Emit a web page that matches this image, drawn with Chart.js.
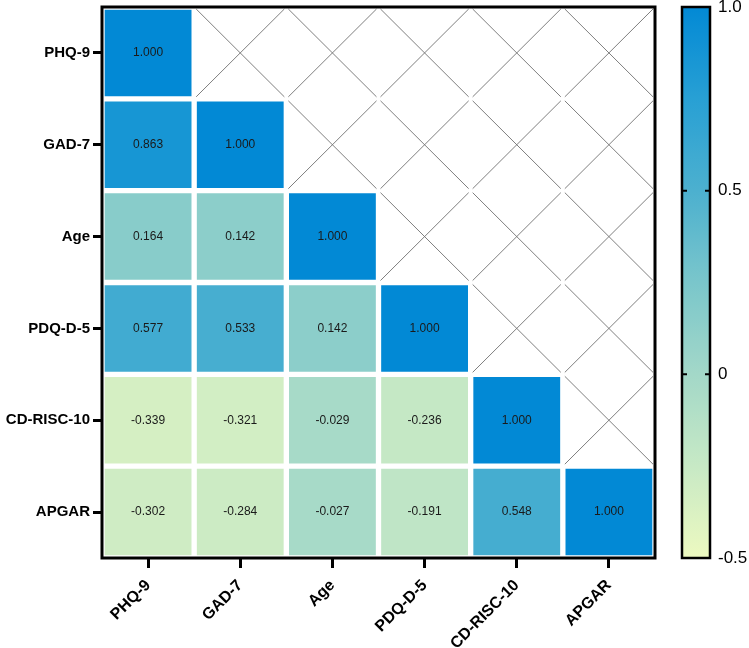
<!DOCTYPE html>
<html>
<head>
<meta charset="utf-8">
<script src="https://cdn.jsdelivr.net/npm/chart.js@4"></script>
<style>
  html, body { margin: 0; padding: 0; background: #ffffff; }
  #wrap { width: 749px; height: 648px; position: relative; }
</style>
</head>
<body>
<div id="wrap"><canvas id="c"></canvas></div>
<script>
// ---- data ----
const categories = ['PHQ-9', 'GAD-7', 'Age', 'PDQ-D-5', 'CD-RISC-10', 'APGAR'];
const rowPHQ9     = [1.000];
const rowGAD7     = [0.863, 1.000];
const rowAge      = [0.164, 0.142, 1.000];
const rowPDQD5    = [0.577, 0.533, 0.142, 1.000];
const rowCDRISC10 = [-0.339, -0.321, -0.029, -0.236, 1.000];
const rowAPGAR    = [-0.302, -0.284, -0.027, -0.191, 0.548, 1.000];
const colorbarTicks = [-0.5, 0, 0.5, 1.0];
const colorbarTickLabels = ['-0.5', '0', '0.5', '1.0'];

const rows = [rowPHQ9, rowGAD7, rowAge, rowPDQD5, rowCDRISC10, rowAPGAR];

// ---- colour map (style) ----
const cmap = [
  [-0.5,  [237, 249, 192]],
  [-0.25, [199, 233, 197]],
  [0.0,   [163, 216, 200]],
  [0.25,  [122, 198, 203]],
  [0.5,   [76, 176, 207]],
  [0.75,  [40, 160, 212]],
  [1.0,   [2, 137, 213]]
];
function colorFor(v) {
  if (v <= cmap[0][0]) return 'rgb(' + cmap[0][1].join(',') + ')';
  for (let i = 1; i < cmap.length; i++) {
    if (v <= cmap[i][0]) {
      const [v0, c0] = cmap[i - 1], [v1, c1] = cmap[i];
      const t = (v - v0) / (v1 - v0);
      const c = c0.map((a, k) => Math.round(a + (c1[k] - a) * t));
      return 'rgb(' + c.join(',') + ')';
    }
  }
  return 'rgb(' + cmap[cmap.length - 1][1].join(',') + ')';
}

const FONT = '"Liberation Sans", Arial, Helvetica, sans-serif';

const datasets = rows.map((vals, r) => ({
  label: categories[r],
  data: categories.map((c, ci) => ci < vals.length ? [r, r + 1] : null),
  cellValues: vals,
  backgroundColor: categories.map((c, ci) => ci < vals.length ? colorFor(vals[ci]) : 'rgba(0,0,0,0)'),
  borderColor: '#ffffff',
  borderWidth: 3,
  borderSkipped: false,
  grouped: false,
  categoryPercentage: 1,
  barPercentage: 1,
  yAxisID: 'y'
}));

const heatPlugin = {
  id: 'heat',
  beforeDatasetsDraw(chart) {
    const ctx = chart.ctx, xs = chart.scales.x, ys = chart.scales.y;
    const n = categories.length;
    ctx.save();
    ctx.strokeStyle = '#707070';
    ctx.lineWidth = 0.9;
    const half = (xs.getPixelForValue(1) - xs.getPixelForValue(0)) / 2;
    for (let r = 0; r < n; r++) {
      for (let c = r + 1; c < n; c++) {
        const cx = xs.getPixelForValue(c);
        const x0 = cx - half + 2, x1 = cx + half - 2;
        const y0 = ys.getPixelForValue(r) + 2, y1 = ys.getPixelForValue(r + 1) - 2;
        ctx.beginPath();
        ctx.moveTo(x0, y0); ctx.lineTo(x1, y1);
        ctx.moveTo(x1, y0); ctx.lineTo(x0, y1);
        ctx.stroke();
      }
    }
    ctx.restore();
  },
  afterDatasetsDraw(chart) {
    const ctx = chart.ctx;
    ctx.save();
    ctx.font = '12px ' + FONT;
    ctx.fillStyle = '#1a1a1a';
    ctx.textAlign = 'center';
    ctx.textBaseline = 'middle';
    chart.data.datasets.forEach((ds, di) => {
      const meta = chart.getDatasetMeta(di);
      meta.data.forEach((el, i) => {
        if (ds.data[i] == null) return;
        const p = el.getCenterPoint();
        ctx.fillText(ds.cellValues[i].toFixed(3), p.x, p.y);
      });
    });
    ctx.restore();
  },
  afterDraw(chart) {
    const ctx = chart.ctx, a = chart.chartArea;
    ctx.save();
    // frame
    ctx.strokeStyle = '#000';
    ctx.lineWidth = 3;
    ctx.strokeRect(a.left, a.top, a.right - a.left, a.bottom - a.top);
    // colorbar
    const cb = chart.scales.cb;
    const left = cb.left + 27, right = cb.left + 55;
    const top = cb.getPixelForValue(colorbarTicks[colorbarTicks.length - 1]);
    const bottom = cb.getPixelForValue(colorbarTicks[0]);
    const g = ctx.createLinearGradient(0, bottom, 0, top);
    const vmin = colorbarTicks[0], vmax = colorbarTicks[colorbarTicks.length - 1];
    for (let k = 0; k <= 30; k++) {
      const v = vmin + (vmax - vmin) * k / 30;
      g.addColorStop(k / 30, colorFor(v));
    }
    ctx.fillStyle = g;
    ctx.fillRect(left, top, right - left, bottom - top);
    ctx.lineWidth = 2.5;
    ctx.strokeRect(left, top, right - left, bottom - top);
    ctx.lineWidth = 2;
    colorbarTicks.slice(1, -1).forEach(v => {
      const y = cb.getPixelForValue(v);
      ctx.beginPath();
      ctx.moveTo(left, y); ctx.lineTo(left + 5, y);
      ctx.moveTo(right, y); ctx.lineTo(right - 5, y);
      ctx.stroke();
    });
    ctx.restore();
  }
};

new Chart(document.getElementById('c'), {
  type: 'bar',
  data: { labels: categories, datasets },
  options: {
    responsive: true,
    maintainAspectRatio: false,
    animation: false,
    devicePixelRatio: 1,
    layout: { padding: { top: 7, left: 0, right: 0, bottom: 0 } },
    plugins: { legend: { display: false }, tooltip: { enabled: false } },
    scales: {
      x: {
        type: 'category',
        offset: true,
        border: { display: false },
        grid: { offset: false, drawOnChartArea: false, drawTicks: true, tickLength: 10, tickWidth: 3, tickColor: '#000' },
        ticks: { color: '#000', font: { family: FONT, size: 16, weight: 'bold' }, minRotation: 45, maxRotation: 45, padding: 8 },
        afterFit(s) { s.height = 90; s.paddingLeft = 0; s.paddingRight = 0; }
      },
      y: {
        type: 'linear',
        reverse: true,
        min: 0,
        max: categories.length,
        border: { display: false },
        grid: { drawOnChartArea: false, drawTicks: true, tickLength: 9, tickWidth: 3, tickColor: '#000' },
        afterBuildTicks(s) { s.ticks = categories.map((c, i) => ({ value: i + 0.5 })); },
        ticks: {
          color: '#000',
          font: { family: FONT, size: 15, weight: 'bold' },
          padding: 3,
          callback: (v, i) => categories[i]
        },
        afterFit(s) { s.width = 102; s.paddingTop = 0; s.paddingBottom = 0; }
      },
      cb: {
        type: 'linear',
        position: 'right',
        min: colorbarTicks[0],
        max: colorbarTicks[colorbarTicks.length - 1],
        border: { display: false },
        grid: { display: false, drawTicks: false },
        afterBuildTicks(s) { s.ticks = colorbarTicks.map(v => ({ value: v })); },
        ticks: {
          color: '#000',
          font: { family: FONT, size: 17 },
          padding: 63,
          callback: (v, i) => colorbarTickLabels[i]
        },
        afterFit(s) { s.width = 94; s.paddingTop = 0; s.paddingBottom = 0; }
      }
    }
  },
  plugins: [heatPlugin]
});
</script>
</body>
</html>
